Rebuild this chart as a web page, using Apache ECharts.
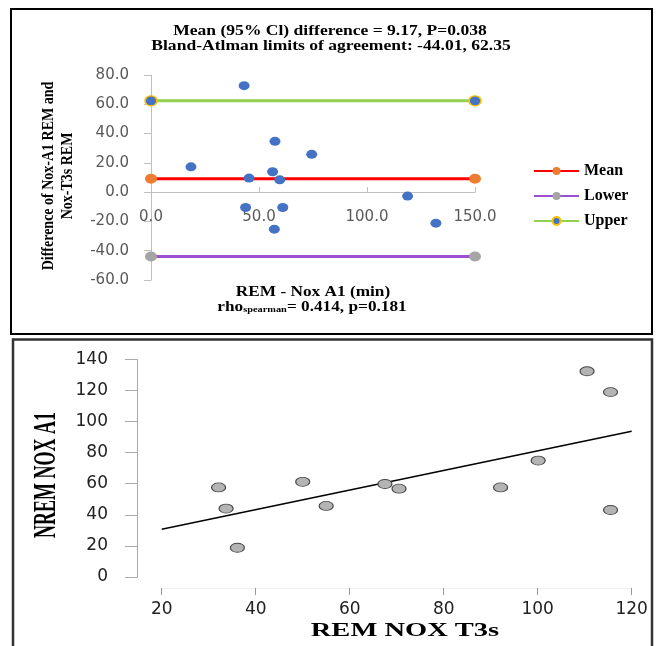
<!DOCTYPE html>
<html>
<head>
<meta charset="utf-8">
<script src="https://cdn.jsdelivr.net/npm/echarts@6/dist/echarts.min.js"></script>
<style>
  html, body { margin: 0; padding: 0; background: #fff; }
  #chart { width: 662px; height: 646px; }
</style>
</head>
<body>
<div id="chart"></div>
<script>
// top panel: Bland-Altman
const remA1 = [43.1, 18.5, 57.4, 74.4, 56.3, 45.4, 59.6, 118.8, 43.8, 61.0, 57.1, 131.9]
const diffA1T3s = [72.7, 17.3, 34.7, 25.8, 13.9, 9.6, 8.4, -2.7, -10.5, -10.5, -25.3, -21.2]
const baRange = [0, 150]
const baMean = 9.17
const baLower = -44.01
const baUpper = 62.35

// bottom panel: scatter with fitted line
const remT3s = [32.1, 33.7, 36.1, 50.0, 55.0, 67.5, 70.5, 92.1, 100.1, 110.5, 115.5, 115.5]
const nremA1 = [57.6, 44.0, 18.8, 61.2, 45.7, 59.8, 56.8, 57.6, 74.9, 132.3, 118.9, 43.1]
const fitX = [20, 120]
const fitY = [30.7, 93.7]

const serif = '"Liberation Serif", "Times New Roman", serif'
const sans = '"DejaVu Sans", sans-serif'

const chart = echarts.init(document.getElementById('chart'))

function hline(name, value, lineColor, itemStyle) {
  return {
    name: name,
    type: 'line',
    xAxisIndex: 0,
    yAxisIndex: 0,
    data: baRange.map(x => [x, value]),
    symbol: 'circle',
    symbolSize: [12, 10],
    showSymbol: true,
    lineStyle: { color: lineColor, width: 3 },
    itemStyle: itemStyle,
    emphasis: { disabled: true }
  }
}

function label(text, x, y, size, opts) {
  return Object.assign({
    type: 'text',
    x: x,
    y: y,
    z: 10,
    style: {
      text: text,
      fontFamily: serif,
      fontWeight: 'bold',
      fontSize: size,
      fill: '#000',
      align: 'center',
      verticalAlign: 'middle'
    }
  }, opts || {})
}

chart.setOption({
  animation: false,
  grid: [
    { left: 151, top: 75, width: 324, height: 205, outerBoundsMode: 'none' },
    { left: 161.7, top: 359.3, width: 470, height: 217.7, outerBoundsMode: 'none' }
  ],
  legend: {
    data: ['Mean', 'Lower', 'Upper'],
    orient: 'vertical',
    left: 528,
    top: 158,
    itemWidth: 45,
    itemHeight: 10,
    itemGap: 9,
    textStyle: { fontFamily: serif, fontWeight: 'bold', fontSize: 16, color: '#000' }
  },
  xAxis: [
    {
      type: 'value',
      gridIndex: 0,
      min: 0,
      max: 150,
      interval: 50,
      splitLine: { show: false },
      axisLine: { onZero: true, lineStyle: { color: '#bfbfbf' } },
      axisTick: { show: true, inside: true, length: 5, lineStyle: { color: '#bfbfbf' } },
      // labels sit just under the zero line, as in the spreadsheet chart
      axisLabel: {
        formatter: v => v.toFixed(1),
        fontFamily: sans,
        fontSize: 15,
        color: '#595959',
        margin: -70
      }
    },
    {
      type: 'value',
      gridIndex: 1,
      min: 20,
      max: 120,
      interval: 20,
      offset: 11,
      splitLine: { show: false },
      axisLine: { onZero: false, lineStyle: { color: '#eeeeee' } },
      axisTick: { show: true, length: 7, lineStyle: { color: '#999' } },
      axisLabel: { fontFamily: sans, fontSize: 17, color: '#222', margin: 13 }
    }
  ],
  yAxis: [
    {
      type: 'value',
      gridIndex: 0,
      min: -60,
      max: 80,
      interval: 20,
      splitLine: { show: false },
      axisLine: { show: true, onZero: false, lineStyle: { color: '#bfbfbf' } },
      axisTick: { show: true, length: 7, lineStyle: { color: '#bfbfbf' } },
      axisLabel: {
        formatter: v => v.toFixed(1),
        fontFamily: sans,
        fontSize: 15,
        color: '#595959',
        margin: 22
      }
    },
    {
      type: 'value',
      gridIndex: 1,
      min: 0,
      max: 140,
      interval: 20,
      offset: 24.7,
      splitLine: { show: false },
      axisLine: { show: true, onZero: false, lineStyle: { color: '#aaaaaa' } },
      axisTick: { show: true, length: 12, lineStyle: { color: '#aaaaaa' } },
      axisLabel: { fontFamily: sans, fontSize: 17, color: '#222', margin: 29 }
    }
  ],
  series: [
    hline('Mean', baMean, '#ff0000', { color: '#ed7d31' }),
    hline('Lower', baLower, '#9b4fd1', { color: '#a5a5a5' }),
    hline('Upper', baUpper, '#92d050', { color: '#4472c4', borderColor: '#ffc000', borderWidth: 1.5 }),
    {
      name: 'diff',
      type: 'scatter',
      xAxisIndex: 0,
      yAxisIndex: 0,
      data: remA1.map((x, i) => [x, diffA1T3s[i]]),
      symbolSize: [11, 9],
      itemStyle: { color: '#4472c4', opacity: 1 },
      emphasis: { disabled: true },
      z: 3
    },
    {
      name: 'fit',
      type: 'line',
      xAxisIndex: 1,
      yAxisIndex: 1,
      data: fitX.map((x, i) => [x, fitY[i]]),
      symbol: 'none',
      lineStyle: { color: '#000', width: 1.5 },
      emphasis: { disabled: true }
    },
    {
      name: 'points',
      type: 'scatter',
      xAxisIndex: 1,
      yAxisIndex: 1,
      data: remT3s.map((x, i) => [x, nremA1[i]]),
      symbolSize: [14, 9],
      itemStyle: { color: '#b4b4b4', borderColor: '#4a4a4a', borderWidth: 1, opacity: 1 },
      emphasis: { disabled: true },
      z: 3
    }
  ],
  graphic: [
    {
      type: 'rect',
      z: 20,
      shape: { x: 11, y: 9, width: 641, height: 325 },
      style: { fill: 'none', stroke: '#000', lineWidth: 2 }
    },
    {
      type: 'rect',
      z: 20,
      shape: { x: 13, y: 339.5, width: 639, height: 330 },
      style: { fill: 'none', stroke: '#333', lineWidth: 2.5 }
    },
    label('Mean (95% Cl) difference = 9.17, P=0.038', 330, 31, 15, { scaleX: 1.17 }),
    label('Bland-Atlman limits of agreement: -44.01, 62.35', 331, 46, 15, { scaleX: 1.17 }),
    label('REM - Nox A1 (min)', 313, 292, 15, { scaleX: 1.15 }),
    {
      type: 'text',
      x: 312,
      y: 307,
      z: 10,
      scaleX: 1.15,
      style: {
        text: 'rho{sub|spearman}= 0.414, p=0.181',
        fontFamily: serif,
        fontWeight: 'bold',
        fontSize: 15,
        fill: '#000',
        align: 'center',
        verticalAlign: 'middle',
        rich: {
          sub: { fontFamily: serif, fontWeight: 'bold', fontSize: 9, verticalAlign: 'bottom', fill: '#000' }
        }
      }
    },
    label('Difference of Nox-A1 REM and\nNox-T3s REM', 58.5, 176, 14, {
      rotation: Math.PI / 2,
      scaleY: 1.2,
      style: {
        text: 'Difference of Nox-A1 REM and\nNox-T3s REM',
        fontFamily: serif,
        fontWeight: 'bold',
        fontSize: 14,
        lineHeight: 16,
        fill: '#000',
        align: 'center',
        verticalAlign: 'middle'
      }
    }),
    label('NREM NOX A1', 47, 475, 18, { rotation: Math.PI / 2, scaleY: 1.75 }),
    label('REM NOX T3s', 405, 631, 19, { scaleX: 1.5 })
  ]
})
</script>
</body>
</html>
